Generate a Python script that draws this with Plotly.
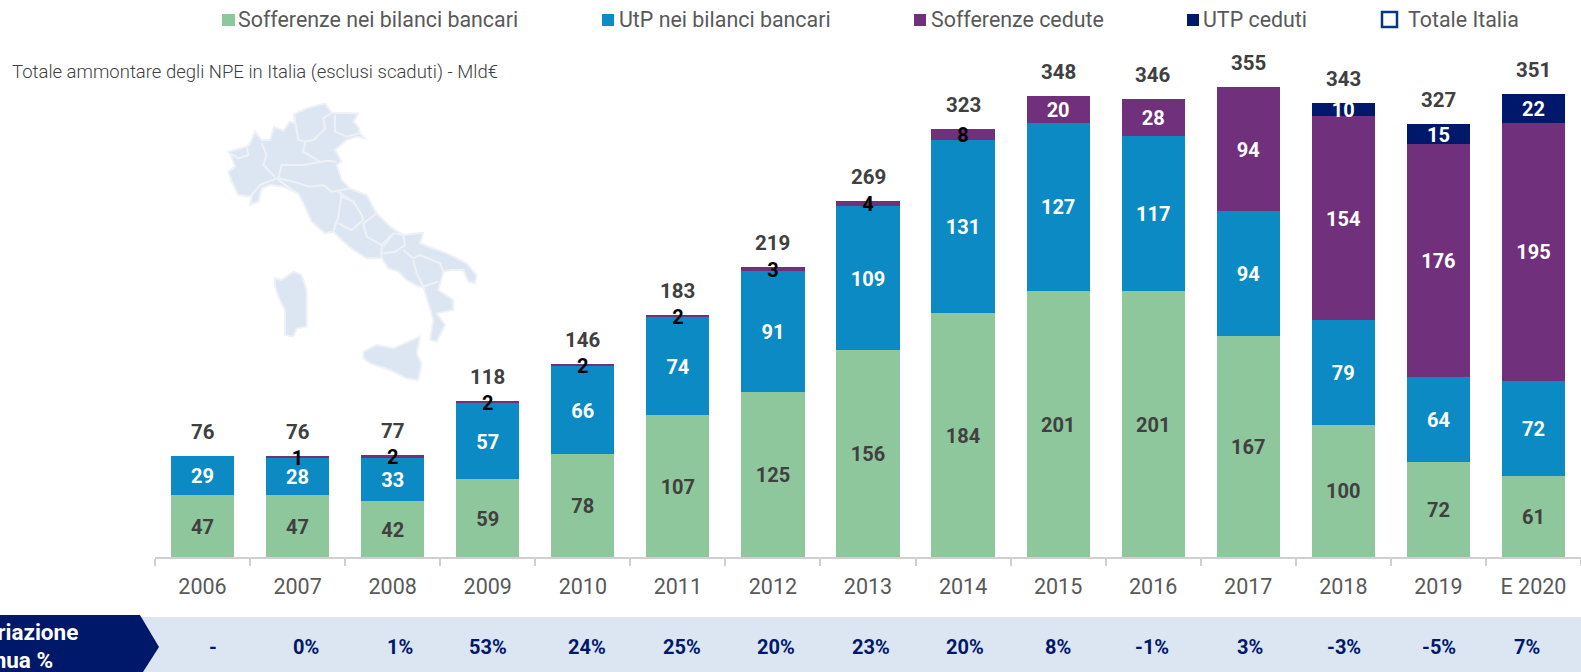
import plotly.graph_objects as go

W, H = 1581, 672
PLOT_L, PLOT_B = 155, 557
PX_PER_UNIT = 1.324

years = ["2006", "2007", "2008", "2009", "2010", "2011", "2012", "2013", "2014",
         "2015", "2016", "2017", "2018", "2019", "E 2020"]
sofferenze = [47, 47, 42, 59, 78, 107, 125, 156, 184, 201, 201, 167, 100, 72, 61]
utp = [29, 28, 33, 57, 66, 74, 91, 109, 131, 127, 117, 94, 79, 64, 72]
sofferenze_cedute = [0, 1, 2, 2, 2, 2, 3, 4, 8, 20, 28, 94, 154, 176, 195]
utp_ceduti = [0, 0, 0, 0, 0, 0, 0, 0, 0, 0, 0, 0, 10, 15, 22]
totale = [76, 76, 77, 118, 146, 183, 219, 269, 323, 348, 346, 355, 343, 327, 351]
variazione = ["-", "0%", "1%", "53%", "24%", "25%", "20%", "23%", "20%", "8%",
              "-1%", "3%", "-3%", "-5%", "7%"]
variazione_nudge_px = [10, 8, 7, 0, 4, 4, 3, 3, 2, 0, -1, 2, 1, 1, -6]

GREEN, BLUE, PURPLE, NAVY = "#8fc79d", "#0b8ac4", "#70307c", "#00186a"
DARK, GREY, BAND = "#404040", "#595959", "#dce6f2"
FONT = "Roboto"

# Decorative map of Italy, in page pixels
italy_main = [(235,185),(290,170),(300,160),(315,125),(335,150),(360,150),(372,110),(400,122),(420,95),(435,100),(432,72),(470,55),(525,40),(545,68),(625,70),(610,95),(625,110),(630,130),(645,145),(620,140),(590,150),(555,180),(575,215),(560,225),(575,270),(600,295),(650,315),(680,370),(720,410),(760,435),(820,428),(810,460),(890,490),(950,520),(980,555),(975,580),(955,575),(940,540),(900,540),(880,545),(865,600),(910,630),(910,660),(860,670),(885,705),(860,755),(840,750),(850,690),(820,590),(805,590),(770,570),(745,545),(715,535),(695,505),(650,505),(610,480),(575,450),(550,425),(525,430),(485,395),(465,350),(445,310),(400,290),(360,285),(335,295),(325,335),(300,345),(305,320),(265,315),(245,275),(235,245),(255,230),(245,200)]
italy_sardinia = [(375,565),(395,570),(430,545),(455,555),(470,600),(470,710),(440,715),(430,740),(405,735),(405,660),(385,620),(375,590)]
italy_sicily = [(640,785),(680,765),(730,775),(810,740),(800,790),(815,820),(805,870),(770,865),(720,840),(660,820),(640,805)]
italy_borders = [
    [(335,160),(350,195),(340,225),(375,260)],
    [(240,190),(265,205),(295,195),(290,170)],
    [(300,320),(330,285),(380,265),(440,310)],
    [(385,265),(395,225),(460,225),(530,212),(560,215)],
    [(385,265),(430,275),(480,290),(520,285),(545,305),(575,300),(600,295)],
    [(432,72),(445,150),(465,155),(490,150),(525,115),(520,85),(545,68)],
    [(465,155),(460,185),(510,215)],
    [(555,75),(555,125),(590,140),(630,130)],
    [(575,310),(565,380),(550,425)],
    [(575,320),(610,335),(635,375),(640,390),(605,420),(565,400)],
    [(565,305),(610,335)],
    [(680,370),(640,400),(650,440),(695,465),(730,430)],
    [(695,465),(695,505)],
    [(700,470),(730,430),(760,435),(765,465),(735,485),(700,490)],
    [(760,480),(790,505),(810,495)],
    [(790,510),(800,550),(820,590)],
    [(810,495),(870,520),(880,545)],
    [(820,590),(865,575)],
]


def px(x):
    return (x - PLOT_L) / (W - PLOT_L)


def py(y):
    return 1 - y / PLOT_B


def zoom_pts(pts):
    return [(150 + x / 3, 90 + y / 3) for x, y in pts]


def path(pts, close=True):
    s = "M " + " L ".join(f"{px(x):.5f},{py(y):.5f}" for x, y in pts)
    return s + (" Z" if close else "")


def rect(x0, y0, x1, y1, fill, line=None, width=0):
    return dict(type="rect", xref="paper", yref="paper", x0=px(x0), x1=px(x1),
                y0=py(y0), y1=py(y1), fillcolor=fill, layer="below",
                line=dict(color=line, width=width) if line else dict(width=0))


def label(x, y, text, size, color, anchor="left", weight=400):
    return dict(x=px(x), y=py(y), xref="paper", yref="paper", text=text, showarrow=False,
                xanchor=anchor, yanchor="middle", align="left",
                font=dict(family=FONT, size=size, color=color, weight=weight))


fig = go.Figure()
for name, vals, col in [("Sofferenze nei bilanci bancari", sofferenze, GREEN),
                        ("UtP nei bilanci bancari", utp, BLUE),
                        ("Sofferenze cedute", sofferenze_cedute, PURPLE),
                        ("UTP ceduti", utp_ceduti, NAVY)]:
    fig.add_trace(go.Bar(x=years, y=vals, name=name, marker_color=col, marker_line_width=0,
                         showlegend=False))

base = [0] * len(years)
for vals, colour_of in [(sofferenze, lambda v: DARK), (utp, lambda v: "white"),
                        (sofferenze_cedute, lambda v: "white" if v >= 10 else "black"),
                        (utp_ceduti, lambda v: "white")]:
    xs, ys, ts, cs = [], [], [], []
    for i, v in enumerate(vals):
        if v:
            xs.append(years[i]); ys.append(base[i] + v / 2 - 2); ts.append(str(v)); cs.append(colour_of(v))
        base[i] += v
    fig.add_trace(go.Scatter(x=xs, y=ys, text=ts, mode="text", textposition="middle center",
                             textfont=dict(family=FONT, size=20, color=cs, weight=700),
                             showlegend=False, hoverinfo="skip", cliponaxis=False))

shapes = [
    rect(100, 617, W, H, BAND),
    dict(type="path", xref="paper", yref="paper", layer="below", fillcolor=NAVY, line_width=0,
         path=path([(0, 615), (140, 615), (159, 647), (143, H), (0, H)])),
]
for poly in (italy_main, italy_sardinia, italy_sicily):
    shapes.append(dict(type="path", xref="paper", yref="paper", layer="below", fillcolor=BAND,
                       line=dict(color="#eef1f5", width=2), path=path(zoom_pts(poly))))
for b in italy_borders:
    shapes.append(dict(type="path", xref="paper", yref="paper", layer="below",
                       line=dict(color="#eef1f5", width=2), path=path(zoom_pts(b), close=False)))

legend_items = [
    (222, 235, 236, "Sofferenze nei bilanci bancari", GREEN),
    (602, 614, 617, "UtP nei bilanci bancari", BLUE),
    (914, 926, 929, "Sofferenze cedute", PURPLE),
    (1187, 1199, 1201, "UTP ceduti", NAVY),
]
annotations = []
for x0, x1, tx, text, col in legend_items:
    shapes.append(rect(x0, 14, x1, 26, col))
    annotations.append(label(tx, 19, text, 21.4, GREY))
shapes.append(rect(1382, 12, 1397, 27, "white", "#00397f", 2.5))
annotations.append(label(1406, 19, "Totale Italia", 21.4, GREY))
annotations.append(label(10, 72, "Totale ammontare degli NPE in Italia (esclusi scaduti) - Mld€", 18.5, "#404040", weight=300))
annotations.append(label(80, 632, "Variazione", 22.5, "white", anchor="right", weight=700))
annotations.append(label(55, 660, "annua %", 22.5, "white", anchor="right", weight=700))
for i, (v, n) in enumerate(zip(variazione, variazione_nudge_px)):
    annotations.append(dict(x=i, y=py(647), xref="x", yref="paper", text=v, showarrow=False,
                            xshift=n, xanchor="center", yanchor="middle",
                            font=dict(family=FONT, size=20, color=NAVY, weight=700)))
for i, t in enumerate(totale):
    annotations.append(dict(x=i, y=base[i], xref="x", yref="y", text=str(t), showarrow=False,
                            yshift=24, xanchor="center", yanchor="middle",
                            font=dict(family=FONT, size=20.5, color=DARK, weight=700)))

fig.update_layout(
    width=W, height=H, barmode="stack", bargap=0.335,
    margin=dict(l=PLOT_L, r=0, t=0, b=H - PLOT_B, autoexpand=False),
    paper_bgcolor="white", plot_bgcolor="white",
    font=dict(family=FONT), showlegend=False, shapes=shapes, annotations=annotations,
    xaxis=dict(type="category", categoryorder="array", categoryarray=years, tickson="boundaries",
               range=[-0.5, 14.5], ticks="outside", ticklen=7, tickcolor="#d0d0d0", tickwidth=1.5,
               showline=True, linecolor="#d0d0d0", linewidth=1.5, showgrid=False, zeroline=False,
               tickangle=0, ticklabelstandoff=9,
               tickfont=dict(family=FONT, size=21.5, color=GREY)),
    yaxis=dict(range=[0, PLOT_B / PX_PER_UNIT], visible=False, showgrid=False, zeroline=False),
)

fig.write_html("out.html", config=dict(displayModeBar=False),
               post_script="document.body.style.margin='0';document.body.style.overflow='hidden';")
